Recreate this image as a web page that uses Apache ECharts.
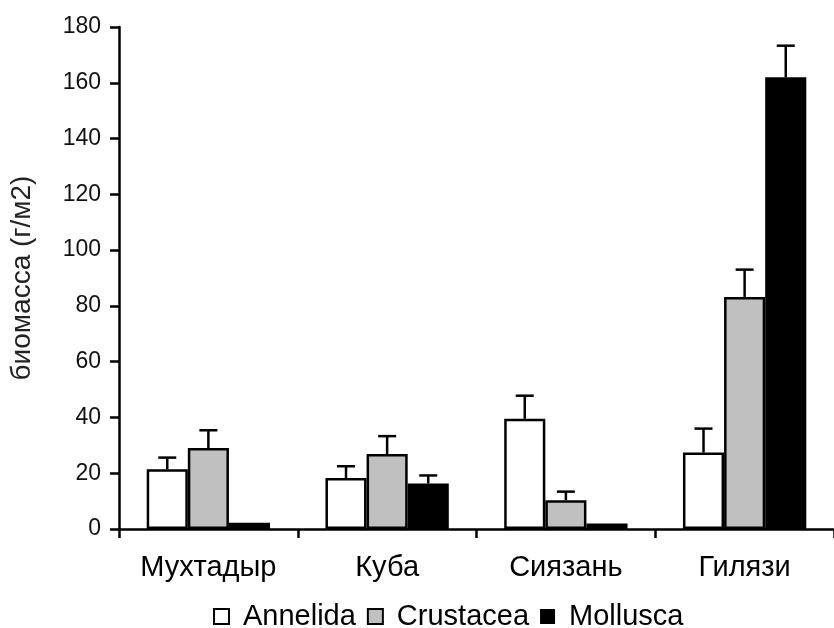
<!DOCTYPE html>
<html>
<head>
<meta charset="utf-8">
<script src="https://cdn.jsdelivr.net/npm/echarts@6/dist/echarts.min.js"></script>
<style>html,body{margin:0;padding:0;background:#fff}#c{width:834px;height:628px}</style>
</head>
<body>
<div id="c"></div>
<script>
const categories = ['Мухтадыр', 'Куба', 'Сиязань', 'Гилязи'];
const seriesNames = ['Annelida', 'Crustacea', 'Mollusca'];
const annelida = [21.4, 18.3, 39.5, 27.4];
const annelidaSE = [4.2, 4.2, 8.3, 8.6];
const crustacea = [29.0, 26.9, 10.3, 83.2];
const crustaceaSE = [6.4, 6.4, 3.1, 9.8];
const mollusca = [2.2, 16.3, 2.0, 162.0];
const molluscaSE = [null, 2.9, null, 11.3];
const yTicks = [0, 20, 40, 60, 80, 100, 120, 140, 160, 180];

const FONT = '"Liberation Sans", Arial, sans-serif';
const GAP = 0.31;
const values = [annelida, crustacea, mollusca];
const errs = [annelidaSE, crustaceaSE, molluscaSE];

const errData = [];
values.forEach((arr, s) => {
  arr.forEach((v, i) => {
    const e = errs[s][i];
    if (e != null) errData.push([i, s, v, v + e]);
  });
});

const chart = echarts.init(document.getElementById('c'));
chart.setOption({
  animation: false,
  grid: { left: 119, right: -5, top: 27, bottom: 99 },
  legend: {
    data: seriesNames,
    left: 213, top: 602, padding: 0,
    itemWidth: 15, itemHeight: 15, itemGap: 11,
    icon: 'rect',
    textStyle: { fontFamily: FONT, fontSize: 29, color: '#000', padding: [0, 0, 0, 9], lineHeight: 28 }
  },
  xAxis: {
    type: 'category',
    data: categories,
    axisLine: { lineStyle: { color: '#000', width: 2.5 } },
    axisTick: { show: true, length: 9, lineStyle: { color: '#000', width: 2.5 } },
    axisLabel: { fontFamily: FONT, fontSize: 29, color: '#000', margin: 24 }
  },
  yAxis: {
    type: 'value',
    min: yTicks[0], max: yTicks[yTicks.length - 1], interval: 20,
    name: 'биомасса (г/м2)',
    nameLocation: 'middle',
    nameGap: 83,
    nameTextStyle: { fontFamily: FONT, fontSize: 28, color: '#222' },
    splitLine: { show: false },
    axisLine: { show: true, lineStyle: { color: '#000', width: 2.5 } },
    axisTick: { show: true, length: 9, lineStyle: { color: '#000', width: 2.5 } },
    axisLabel: { fontFamily: FONT, fontSize: 23, color: '#111', margin: 18 }
  },
  series: [
    {
      name: 'Annelida', type: 'bar', data: annelida,
      barGap: '0%', barCategoryGap: (GAP * 100) + '%',
      itemStyle: { color: '#ffffff', borderColor: '#000', borderWidth: 2.5 }
    },
    {
      name: 'Crustacea', type: 'bar', data: crustacea,
      itemStyle: { color: '#c0c0c0', borderColor: '#000', borderWidth: 2.5 }
    },
    {
      name: 'Mollusca', type: 'bar', data: mollusca,
      itemStyle: { color: '#000000', borderColor: '#000', borderWidth: 0 }
    },
    {
      type: 'custom',
      z: 10,
      silent: true,
      data: errData,
      encode: { x: 0, y: 3 },
      renderItem: function (params, api) {
        const c = api.value(0), s = api.value(1), v = api.value(2), e = api.value(3);
        const base = api.coord([c, v]);
        const top = api.coord([c, e]);
        const band = api.size([1, 0])[0];
        const barW = band * (1 - GAP) / 3;
        const x = base[0] + (s - 1) * barW;
        const capHalf = 9;
        const st = { stroke: '#000', lineWidth: 2.5 };
        return {
          type: 'group',
          children: [
            { type: 'line', shape: { x1: x, y1: base[1], x2: x, y2: top[1] }, style: st },
            { type: 'line', shape: { x1: x - capHalf, y1: top[1], x2: x + capHalf, y2: top[1] }, style: st }
          ]
        };
      }
    }
  ]
});
</script>
</body>
</html>
